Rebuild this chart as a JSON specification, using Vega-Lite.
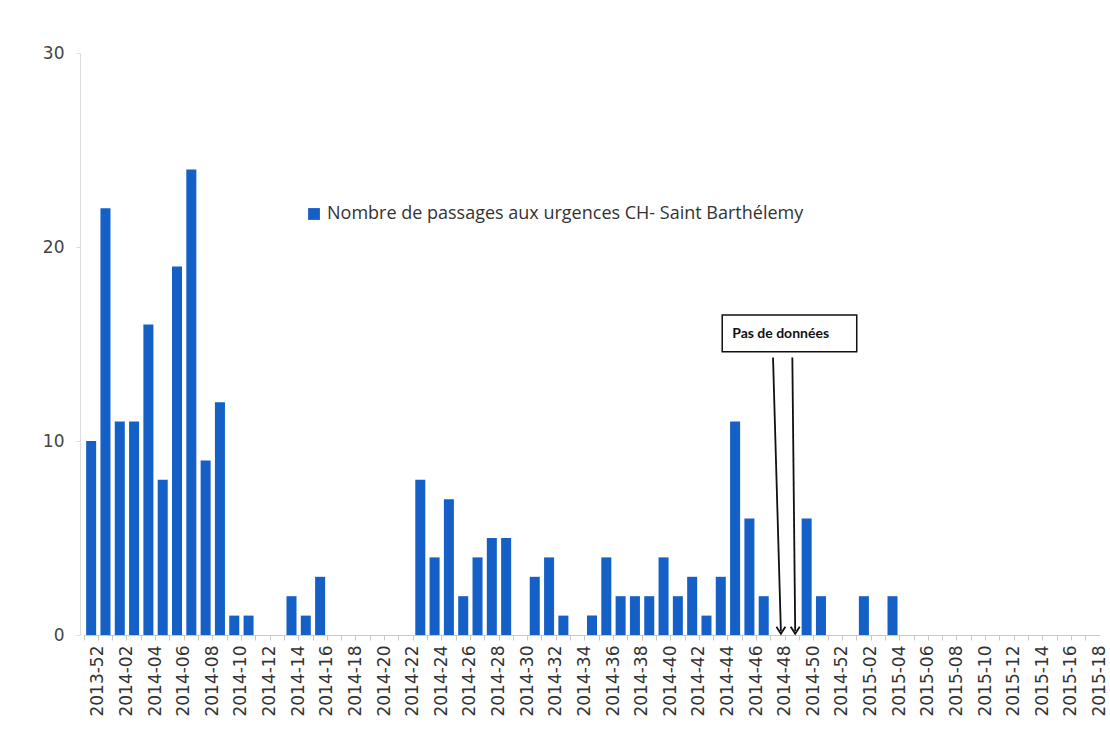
{
  "$schema": "https://vega.github.io/schema/vega-lite/v6.json",
  "width": 1016,
  "height": 582,
  "autosize": {"type": "none"},
  "padding": {"left": 84, "top": 53, "right": 10, "bottom": 104},
  "background": "white",
  "config": {"view": {"stroke": null}, "font": "DejaVu Sans"},
  "datasets": {
    "weeks": [
      {"semaine": "2013-52", "passages": 10},
      {"semaine": "2014-01", "passages": 22},
      {"semaine": "2014-02", "passages": 11},
      {"semaine": "2014-03", "passages": 11},
      {"semaine": "2014-04", "passages": 16},
      {"semaine": "2014-05", "passages": 8},
      {"semaine": "2014-06", "passages": 19},
      {"semaine": "2014-07", "passages": 24},
      {"semaine": "2014-08", "passages": 9},
      {"semaine": "2014-09", "passages": 12},
      {"semaine": "2014-10", "passages": 1},
      {"semaine": "2014-11", "passages": 1},
      {"semaine": "2014-12", "passages": 0},
      {"semaine": "2014-13", "passages": 0},
      {"semaine": "2014-14", "passages": 2},
      {"semaine": "2014-15", "passages": 1},
      {"semaine": "2014-16", "passages": 3},
      {"semaine": "2014-17", "passages": 0},
      {"semaine": "2014-18", "passages": 0},
      {"semaine": "2014-19", "passages": 0},
      {"semaine": "2014-20", "passages": 0},
      {"semaine": "2014-21", "passages": 0},
      {"semaine": "2014-22", "passages": 0},
      {"semaine": "2014-23", "passages": 8},
      {"semaine": "2014-24", "passages": 4},
      {"semaine": "2014-25", "passages": 7},
      {"semaine": "2014-26", "passages": 2},
      {"semaine": "2014-27", "passages": 4},
      {"semaine": "2014-28", "passages": 5},
      {"semaine": "2014-29", "passages": 5},
      {"semaine": "2014-30", "passages": 0},
      {"semaine": "2014-31", "passages": 3},
      {"semaine": "2014-32", "passages": 4},
      {"semaine": "2014-33", "passages": 1},
      {"semaine": "2014-34", "passages": 0},
      {"semaine": "2014-35", "passages": 1},
      {"semaine": "2014-36", "passages": 4},
      {"semaine": "2014-37", "passages": 2},
      {"semaine": "2014-38", "passages": 2},
      {"semaine": "2014-39", "passages": 2},
      {"semaine": "2014-40", "passages": 4},
      {"semaine": "2014-41", "passages": 2},
      {"semaine": "2014-42", "passages": 3},
      {"semaine": "2014-43", "passages": 1},
      {"semaine": "2014-44", "passages": 3},
      {"semaine": "2014-45", "passages": 11},
      {"semaine": "2014-46", "passages": 6},
      {"semaine": "2014-47", "passages": 2},
      {"semaine": "2014-48", "passages": null},
      {"semaine": "2014-49", "passages": null},
      {"semaine": "2014-50", "passages": 6},
      {"semaine": "2014-51", "passages": 2},
      {"semaine": "2014-52", "passages": 0},
      {"semaine": "2015-01", "passages": 0},
      {"semaine": "2015-02", "passages": 2},
      {"semaine": "2015-03", "passages": 0},
      {"semaine": "2015-04", "passages": 2},
      {"semaine": "2015-05", "passages": 0},
      {"semaine": "2015-06", "passages": 0},
      {"semaine": "2015-07", "passages": 0},
      {"semaine": "2015-08", "passages": 0},
      {"semaine": "2015-09", "passages": 0},
      {"semaine": "2015-10", "passages": 0},
      {"semaine": "2015-11", "passages": 0},
      {"semaine": "2015-12", "passages": 0},
      {"semaine": "2015-13", "passages": 0},
      {"semaine": "2015-14", "passages": 0},
      {"semaine": "2015-15", "passages": 0},
      {"semaine": "2015-16", "passages": 0},
      {"semaine": "2015-17", "passages": 0},
      {"semaine": "2015-18", "passages": 0}
    ],
    "note": [
      {"label": "Pas de données", "x0": 44.6, "x1": 54.0, "y0": 14.6, "y1": 16.5, "tx": 45.3, "ty": 15.5}
    ],
    "arrows": [
      {"xs": 48.15, "ys": 14.3, "xe": 48.7, "ye": 0.2},
      {"xs": 49.5, "ys": 14.3, "xe": 49.7, "ye": 0.2}
    ]
  },
  "layer": [
    {
      "data": {"name": "weeks"},
      "mark": {"type": "bar", "invalid": "show"},
      "encoding": {
        "x": {
          "field": "semaine",
          "type": "nominal",
          "sort": null,
          "scale": {"paddingInner": 0.3, "paddingOuter": 0.15},
          "axis": {
            "title": null,
            "labelAngle": -90,
            "labelAlign": "right",
            "labelBaseline": "middle",
            "labelExpr": "toNumber(slice(datum.value, 5)) % 2 == 0 ? datum.value : ''",
            "labelFont": "DejaVu Sans",
            "labelFontSize": 17,
            "labelColor": "#333333",
            "labelPadding": 5,
            "labelOverlap": false,
            "labelBound": false,
            "bandPosition": -0.21,
            "labelOffset": 7.2,
            "tickSize": 5,
            "tickColor": "#c8c8c8",
            "domainColor": "#c8c8c8"
          }
        },
        "y": {
          "field": "passages",
          "type": "quantitative",
          "scale": {"domain": [0, 30], "nice": false},
          "axis": {
            "title": null,
            "values": [0, 10, 20, 30],
            "grid": false,
            "offset": 4,
            "labelFont": "DejaVu Sans",
            "labelFontSize": 17,
            "labelColor": "#444444",
            "labelPadding": 12,
            "tickSize": 4,
            "tickColor": "#dcdcdc",
            "domainColor": "#dcdcdc"
          }
        },
        "color": {
          "datum": "Nombre de passages aux urgences CH- Saint Barthélemy",
          "type": "nominal",
          "scale": {"range": ["#1560c6"]},
          "legend": {
            "title": null,
            "orient": "none",
            "legendX": 221,
            "legendY": 152,
            "symbolType": "square",
            "symbolSize": 140,
            "symbolStrokeWidth": 0,
            "labelFont": "Open Sans",
            "labelFontSize": 18,
            "labelColor": "#333333",
            "labelLimit": 0
          }
        }
      }
    },
    {
      "layer": [
        {
          "data": {"name": "note"},
          "mark": {"type": "rect", "fill": "white", "stroke": "#111111", "strokeWidth": 1.5},
          "encoding": {
            "x": {"field": "x0", "type": "quantitative", "scale": {"domain": [0, 71], "nice": false}, "axis": null},
            "x2": {"field": "x1"},
            "y": {"field": "y0", "type": "quantitative", "title": null},
            "y2": {"field": "y1"}
          }
        },
        {
          "data": {"name": "note"},
          "mark": {"type": "text", "align": "left", "baseline": "middle", "font": "Lato", "fontWeight": "bold", "fontSize": 14, "color": "#111111"},
          "encoding": {
            "x": {"field": "tx", "type": "quantitative", "axis": null},
            "y": {"field": "ty", "type": "quantitative", "title": null},
            "text": {"field": "label"}
          }
        },
        {
          "data": {"name": "arrows"},
          "mark": {"type": "rule", "color": "#111111", "strokeWidth": 1.8},
          "encoding": {
            "x": {"field": "xs", "type": "quantitative", "axis": null},
            "y": {"field": "ys", "type": "quantitative", "title": null},
            "x2": {"field": "xe"},
            "y2": {"field": "ye"}
          }
        },
        {
          "data": {"name": "arrows"},
          "mark": {"type": "point", "shape": "M-1,-1L0,0.6L1,-1", "filled": false, "stroke": "#111111", "strokeWidth": 1.8, "size": 80, "opacity": 1},
          "encoding": {
            "x": {"field": "xe", "type": "quantitative", "axis": null},
            "y": {"field": "ye", "type": "quantitative", "title": null}
          }
        }
      ]
    }
  ],
  "resolve": {"scale": {"x": "independent"}}
}
